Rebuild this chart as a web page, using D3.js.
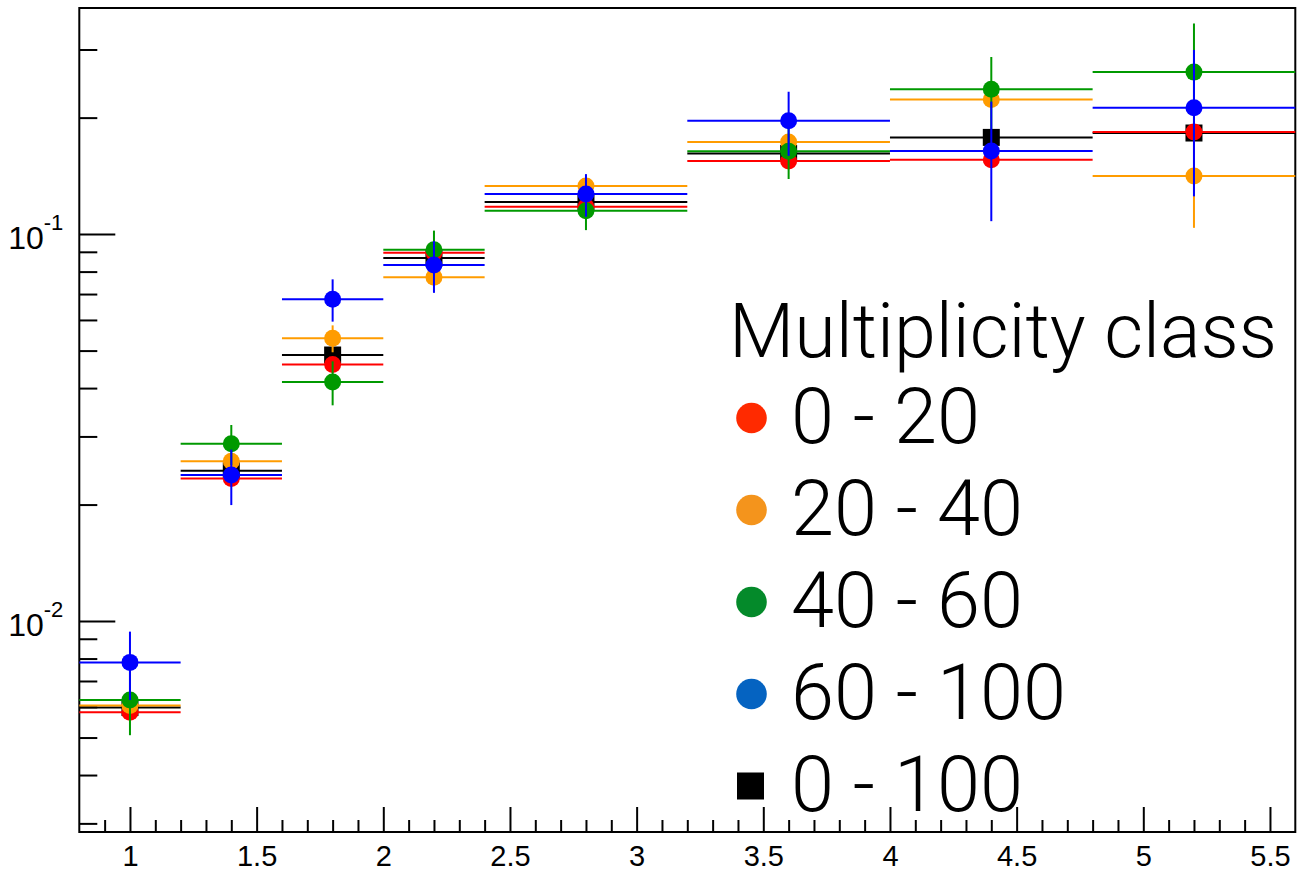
<!DOCTYPE html>
<html>
<head>
<meta charset="utf-8">
<script src="https://cdn.jsdelivr.net/npm/d3@7"></script>
<style>
  body { margin: 0; background: #fff; }
  svg { display: block; }
  .axis text { font-family: "Liberation Sans", Arial, Helvetica, sans-serif; font-size: 29px; fill: #000; }
  .axis line { stroke: #000; stroke-width: 2; }
  .yaxis text { font-size: 32px; }
  .legend text { font-family: "Helvetica Neue", Roboto, Lato, "Liberation Sans", sans-serif; font-weight: 300; fill: #000; }
</style>
</head>
<body>
<div id="chart"></div>
<script>
// bins (pT-like variable)
var binLo   = [0.8, 1.2, 1.6, 2.0, 2.4, 3.2, 4.0, 4.8];
var binHi   = [1.2, 1.6, 2.0, 2.4, 3.2, 4.0, 4.8, 5.6];
var xCenter = [1.0, 1.4, 1.8, 2.2, 2.8, 3.6, 4.4, 5.2];

// values per multiplicity class
var all100  = [0.00598, 0.02446, 0.0487, 0.0867, 0.1210, 0.1616, 0.1778, 0.1825];
var all100E = [0.0002, 0.0005, 0.001, 0.0015, 0.002, 0.003, 0.004, 0.005];
var m0_20   = [0.00581, 0.02337, 0.0460, 0.0895, 0.1176, 0.1544, 0.1556, 0.1835];
var m0_20E  = [0.0002, 0.0008, 0.0015, 0.003, 0.004, 0.006, 0.006, 0.007];
var m20_40  = [0.00605, 0.02587, 0.0538, 0.0774, 0.1331, 0.1729, 0.2228, 0.1413];
var m20_40E = [0.0002, 0.0009, 0.0043, 0.003, 0.005, 0.008, 0.01, 0.0375];
var m40_60  = [0.00625, 0.02871, 0.0415, 0.0911, 0.1149, 0.1638, 0.2369, 0.2622];
var m40_60E = [0.00118, 0.0034, 0.0054, 0.011, 0.0125, 0.025, 0.05, 0.088];
var m60_100 = [0.00782, 0.02384, 0.0679, 0.0832, 0.1269, 0.1963, 0.1640, 0.2122];
var m60_100E= [0.00157, 0.0039, 0.0085, 0.0127, 0.016, 0.037, 0.056, 0.087];

var legendTitle = "Multiplicity class";
var legendLabels = ["0 - 20", "20 - 40", "40 - 60", "60 - 100", "0 - 100"];

var xMajor = [1, 1.5, 2, 2.5, 3, 3.5, 4, 4.5, 5, 5.5];
var yMajor = [0.01, 0.1];

// drawing order: black first, blue on top
var series = [
  { vals: all100,  errs: all100E,  color: "#000000", legend: "#000000", shape: "square", label: legendLabels[4] },
  { vals: m0_20,   errs: m0_20E,   color: "#ff0000", legend: "#ff2a00", shape: "circle", label: legendLabels[0] },
  { vals: m20_40,  errs: m20_40E,  color: "#ff9c00", legend: "#f4941c", shape: "circle", label: legendLabels[1] },
  { vals: m40_60,  errs: m40_60E,  color: "#009900", legend: "#048a2a", shape: "circle", label: legendLabels[2] },
  { vals: m60_100, errs: m60_100E, color: "#0000ff", legend: "#0563c1", shape: "circle", label: legendLabels[3] }
];

var W = 1300, H = 871;
var frame = { left: 79.3, right: 1295.3, top: 8, bottom: 832 };

var svg = d3.select("#chart").append("svg")
  .attr("width", W)
  .attr("height", H);

var x = d3.scaleLinear().domain([0.8, 5.6]).range([frame.left, frame.right]);
var y = d3.scaleLog().domain([0.00285, 0.384]).range([frame.bottom, frame.top]);

// minor ticks
var xMinor = d3.range(9, 56).map(d => d / 10).filter(d => xMajor.indexOf(d) < 0);
var yMinor = [];
[0.001, 0.01, 0.1].forEach(function(dec) {
  for (var k = 2; k <= 9; k++) {
    var v = +(dec * k).toPrecision(3);
    if (v >= y.domain()[0] && v <= y.domain()[1]) yMinor.push(v);
  }
});

// x axis
svg.append("g").attr("class", "axis")
  .attr("transform", "translate(0," + frame.bottom + ")")
  .call(d3.axisBottom(x).tickValues(xMinor).tickSize(-12).tickFormat(""))
  .call(g => g.select(".domain").remove());

svg.append("g").attr("class", "axis")
  .attr("transform", "translate(0," + frame.bottom + ")")
  .call(d3.axisBottom(x).tickValues(xMajor).tickSize(-25).tickPadding(13)
    .tickFormat(d => String(+d.toFixed(1))))
  .call(g => g.select(".domain").remove());

// y axis
svg.append("g").attr("class", "axis")
  .attr("transform", "translate(" + frame.left + ",0)")
  .call(d3.axisLeft(y).tickValues(yMinor).tickSize(-18).tickFormat(""))
  .call(g => g.select(".domain").remove());

svg.append("g").attr("class", "axis yaxis")
  .attr("transform", "translate(" + frame.left + ",0)")
  .call(d3.axisLeft(y).tickValues(yMajor).tickSize(-36).tickPadding(16).tickFormat(""))
  .call(g => g.select(".domain").remove())
  .call(g => g.selectAll(".tick text")
    .attr("dy", null)
    .attr("y", 14)
    .each(function(d) {
      var t = d3.select(this);
      t.append("tspan").text("10");
      t.append("tspan").attr("dy", -19).style("font-size", "22px")
        .text(String(Math.round(Math.log10(d))));
    }));

// frame
svg.append("rect")
  .attr("x", frame.left).attr("y", frame.top)
  .attr("width", frame.right - frame.left)
  .attr("height", frame.bottom - frame.top)
  .attr("fill", "none").attr("stroke", "#000").attr("stroke-width", 2);

// data: error bars + markers
var r = 8.5;
series.forEach(function(s) {
  var g = svg.append("g");
  xCenter.forEach(function(xc, i) {
    var v = s.vals[i], e = s.errs[i];
    g.append("line")
      .attr("x1", x(binLo[i])).attr("x2", x(binHi[i]))
      .attr("y1", y(v)).attr("y2", y(v))
      .attr("stroke", s.color).attr("stroke-width", 2);
    g.append("line")
      .attr("x1", x(xc)).attr("x2", x(xc))
      .attr("y1", y(v - e)).attr("y2", y(v + e))
      .attr("stroke", s.color).attr("stroke-width", 2);
    if (s.shape === "square") {
      g.append("rect")
        .attr("x", x(xc) - r).attr("y", y(v) - r)
        .attr("width", 2 * r).attr("height", 2 * r)
        .attr("fill", s.color);
    } else {
      g.append("circle")
        .attr("cx", x(xc)).attr("cy", y(v)).attr("r", r)
        .attr("fill", s.color);
    }
  });
});

// legend
var leg = svg.append("g").attr("class", "legend");
var title = leg.append("text")
  .attr("x", 729).attr("y", 357)
  .style("font-size", "80px")
  .text(legendTitle);
var tl = title.node().getComputedTextLength();
title.style("font-size", (80 * 548 / tl) + "px");

var legendOrder = [1, 2, 3, 4, 0];
var rowY = d3.scalePoint().domain(legendOrder).range([418, 786]);

// size entries so "60 - 100" fits its reference width
var probe = leg.append("text").style("font-size", "74px").text(legendLabels[3]);
var entrySize = 74 * 275 / probe.node().getComputedTextLength();
probe.remove();

legendOrder.forEach(function(idx) {
  var s = series[idx];
  var cy = rowY(idx);
  if (s.shape === "square") {
    leg.append("rect")
      .attr("x", 737).attr("y", cy - 13.5)
      .attr("width", 27).attr("height", 27)
      .attr("fill", s.legend);
  } else {
    leg.append("circle")
      .attr("cx", 751.5).attr("cy", cy).attr("r", 15.3)
      .attr("fill", s.legend);
  }
  leg.append("text")
    .attr("x", 791).attr("y", cy + 25)
    .style("font-size", entrySize + "px")
    .text(s.label);
});
</script>
</body>
</html>
